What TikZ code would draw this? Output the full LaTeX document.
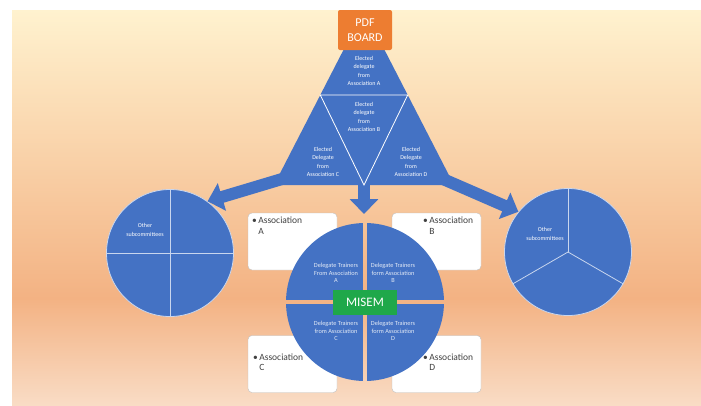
\documentclass[tikz,border=0pt]{standalone}
\usepackage{fontspec}
\setmainfont{Carlito}
\usepackage{xcolor}
\usepackage{tikz}
\usetikzlibrary{positioning,arrows.meta}
\definecolor{tblue}{HTML}{4472C4}
\definecolor{board}{HTML}{ED7D31}
\definecolor{misemgreen}{HTML}{1FA84A}
\definecolor{bgtop}{HTML}{FFF2CF}
\definecolor{bgpeak}{HTML}{F3B283}
\definecolor{bgbot}{HTML}{F9DCC5}
\definecolor{divline}{HTML}{C9D6EE}
\definecolor{boxline}{HTML}{BFBFBF}
\definecolor{ink}{HTML}{404040}
\pgfdeclareverticalshading{slidebg}{100bp}{color(0bp)=(bgbot); color(25bp)=(bgbot); color(38.5bp)=(bgpeak); color(75bp)=(bgtop); color(100bp)=(bgtop)}

\begin{document}
\begin{tikzpicture}[
        x=1pt, y=-1pt,
        tri/.style={
            fill=tblue,
            draw=none
        },
        split/.style={
            draw=white,
            line width=0.8pt
        },
        tritext/.style={
            text=white,
            align=center,
            inner sep=0pt,
            font=\fontsize{6}{8.3}\selectfont
        },
        subcirc/.style={
            circle,
            fill=tblue,
            draw=divline,
            line width=0.8pt,
            minimum size=127pt,
            inner sep=0pt
        },
        divider/.style={
            draw=divline,
            line width=0.8pt
        },
        quarter/.style={
            fill=tblue
        },
        quartertext/.style={
            text=white!85!tblue,
            align=center,
            inner sep=0pt,
            font=\fontsize{6.3}{7.3}\selectfont
        },
        assoc/.style={
            rectangle,
            draw=boxline,
            fill=white,
            rounded corners=4pt,
            minimum width=89pt,
            minimum height=57pt
        },
        assoctext/.style={
            text=ink,
            align=left,
            inner sep=0pt,
            font=\fontsize{9.5}{10.5}\selectfont
        },
        blockarrow/.style={
            draw=tblue,
            line width=12pt,
            -{Triangle[width=28pt,length=15pt]}
        }
    ]
        \useasboundingbox (0,0) rectangle (701,405);
        \shade[shading=slidebg] (12,10) rectangle (701,405);

        % Association boxes (behind the MISEM circle)
        \node[assoc] (boxA) at (292.5,241.5) {};
        \node[assoc] (boxB) at (436.5,241.5) {};
        \node[assoc] (boxC) at (292.5,364) {};
        \node[assoc] (boxD) at (436.5,364) {};
        \node[assoctext, below right=4pt and 4pt of boxA.north west] (labA) {\textbullet\,Association\\\phantom{\textbullet\,}A};
        \node[assoctext, below right=4pt and 31pt of boxB.north west] (labB) {\textbullet\,Association\\\phantom{\textbullet\,}B};
        \node[assoctext, below right=18pt and 5pt of boxC.north west] (labC) {\textbullet\,Association\\\phantom{\textbullet\,}C};
        \node[assoctext, below right=18pt and 31pt of boxD.north west] (labD) {\textbullet\,Association\\\phantom{\textbullet\,}D};

        % MISEM circle in four quarters
        \coordinate (mc) at (365,302);
        \begin{scope}
            \clip (mc) circle (79pt);
            \fill[quarter] ([shift={(-2,-2)}]mc) rectangle ++(-90,-90);
            \fill[quarter] ([shift={(2,-2)}]mc) rectangle ++(90,-90);
            \fill[quarter] ([shift={(-2,2)}]mc) rectangle ++(-90,90);
            \fill[quarter] ([shift={(2,2)}]mc) rectangle ++(90,90);
        \end{scope}
        \node[quartertext] (qA) at (336,273) {Delegate Trainers\\From Association\\A};
        \node[quartertext] (qB) at (393,273) {Delegate Trainers\\form Association\\B};
        \node[quartertext] (qC) at (336,331) {Delegate Trainers\\from Association\\C};
        \node[quartertext] (qD) at (393,331) {Delegate Trainers\\form Association\\D};
        \node[fill=misemgreen, text=white, minimum width=64pt, minimum height=25pt,
              inner sep=0pt, font=\fontsize{13}{15}\selectfont] (misem) at (mc) {MISEM};

        % Other subcommittees
        \node[subcirc] (lsub) at (170,253) {};
        \draw[divider] (lsub.north) -- (lsub.south);
        \draw[divider] (lsub.west) -- (lsub.east);
        \node[tritext] (lsubtext) at (145,230) {Other\\subcommittees};

        \node[subcirc] (rsub) at (568,252) {};
        \draw[divider] (rsub.center) -- (rsub.90);
        \draw[divider] (rsub.center) -- (rsub.210);
        \draw[divider] (rsub.center) -- (rsub.330);
        \node[tritext] (rsubtext) at (545,234) {Other\\subcommittees};

        % Delegate pyramid
        \coordinate (apex) at (364,10);
        \coordinate (tbl) at (274,185);
        \coordinate (tbr) at (454,185);
        \coordinate (tml) at (320.3,95);
        \coordinate (tmr) at (407.7,95);
        \coordinate (tmb) at (364,185);
        \fill[tri] (apex) -- (tbl) -- (tbr) -- cycle;

        \coordinate (lfoot) at (292,176);
        \coordinate (rfoot) at (436,176);
        \coordinate (drop) at (364,214);
        \draw[blockarrow] (lfoot) -- (lsub.54);
        \draw[blockarrow] (rfoot) -- (rsub.141);
        \draw[blockarrow] ([yshift=6pt]tmb) -- (drop);

        \draw[split] (tml) -- (tmr) -- (tmb) -- cycle;

        \node[tritext] (elA) at (364,71) {Elected\\delegate\\from\\Association A};
        \node[tritext] (elB) at (364,117) {Elected\\delegate\\from\\Association B};
        \node[tritext] (elC) at (323,162) {Elected\\Delegate\\from\\Association C};
        \node[tritext] (elD) at (411,162) {Elected\\Delegate\\from\\Association D};

        % Board on top
        \node[fill=board, text=white, minimum width=54pt, minimum height=40pt, rounded corners=2pt,
              align=center, inner sep=0pt, font=\fontsize{12}{14.5}\selectfont] (pdf) at (365,30) {PDF\\BOARD};
    \end{tikzpicture}
\end{document}
